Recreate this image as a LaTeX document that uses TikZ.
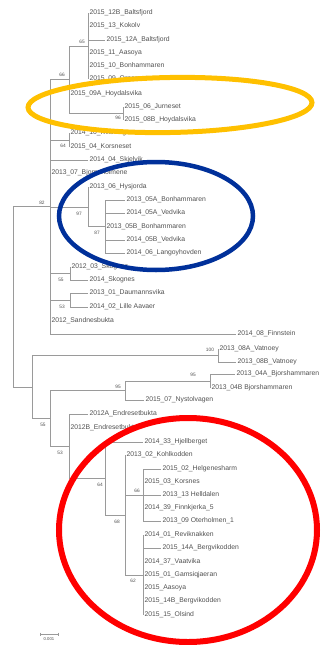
\documentclass[tikz,border=0pt]{standalone}
\usepackage{fontspec}
\setmainfont{Liberation Sans}
\definecolor{treegray}{HTML}{9A9A9A}
\definecolor{labgray}{HTML}{505050}
\definecolor{orng}{HTML}{FFC000}
\definecolor{dblue}{HTML}{00309A}
\definecolor{rred}{HTML}{FF0000}
\begin{document}
\begin{tikzpicture}[x=1pt,y=-1pt,
  treeline/.style={draw=treegray,line width=0.75pt},
  leaflab/.style={anchor=west,inner sep=0pt,outer sep=1.5pt,text height=5pt,text depth=1.4pt,font=\fontsize{6.8}{7}\selectfont,text=labgray},
  bslab/.style={inner sep=0pt,font=\fontsize{4.8}{5}\selectfont,text=labgray},
  ring/.style={line width=#1pt},
  ring/.default=5]
\useasboundingbox (0,0) rectangle (325,645);
% internal nodes
\coordinate (R) at (13,296.7);
\coordinate (U) at (50,206.5);
\coordinate (A) at (69,79.5);
\coordinate (n65) at (88,46);
\coordinate (n96) at (123,113.5);
\coordinate (n64a) at (69,140);
\coordinate (n97) at (88,207);
\coordinate (n87) at (105,226.5);
\coordinate (n55a) at (70,273.5);
\coordinate (n53a) at (70,300);
\coordinate (L) at (32,386.9);
\coordinate (n100) at (218,355.5);
\coordinate (n53b) at (50,418.2);
\coordinate (n95a) at (125,390.5);
\coordinate (n95b) at (210,381);
\coordinate (n53c) at (69,446);
\coordinate (n64b) at (105,478.5);
\coordinate (n68) at (125,515);
\coordinate (n66) at (143,495);
\coordinate (n62) at (143,575);
% leaves
\node[leaflab] (l1) at (88,13) {2015\_12B\_Baltsfjord};
\node[leaflab] (l2) at (88,26) {2015\_13\_Kokolv};
\node[leaflab] (l3) at (105,40) {2015\_12A\_Baltsfjord};
\node[leaflab] (l4) at (88,53) {2015\_11\_Aasoya};
\node[leaflab] (l5) at (88,66) {2015\_10\_Bonhammaren};
\node[leaflab] (l6) at (88,79) {2015\_09\_Ornesset};
\node[leaflab] (l7) at (69,94) {2015\_09A\_Hoydalsvika};
\node[leaflab] (l8) at (123,107) {2015\_06\_Jurneset};
\node[leaflab] (l9) at (123,120) {2015\_08B\_Hoydalsvika};
\node[leaflab] (l10) at (69,133) {2014\_10\_Kvisvingen};
\node[leaflab] (l11) at (69,147) {2015\_04\_Korsneset};
\node[leaflab] (l12) at (88,160) {2014\_04\_Skjelvik};
\node[leaflab] (l13) at (50,173) {2013\_07\_Bjorneholmene};
\node[leaflab] (l14) at (88,187) {2013\_06\_Hysjorda};
\node[leaflab] (l15) at (125,200) {2013\_05A\_Bonhammaren};
\node[leaflab] (l16) at (125,213) {2014\_05A\_Vedvika};
\node[leaflab] (l17) at (105,227) {2013\_05B\_Bonhammaren};
\node[leaflab] (l18) at (125,240) {2014\_05B\_Vedvika};
\node[leaflab] (l19) at (125,253) {2014\_06\_Langoyhovden};
\node[leaflab] (l20) at (70,267) {2012\_03\_Skognes};
\node[leaflab] (l21) at (88,280) {2014\_Skognes};
\node[leaflab] (l22) at (88,293) {2013\_01\_Daumannsvika};
\node[leaflab] (l23) at (88,307) {2014\_02\_Lille Aavaer};
\node[leaflab] (l24) at (50,321) {2012\_Sandnesbukta};
\node[leaflab] (l25) at (236,334) {2014\_08\_Finnstein};
\node[leaflab] (l26) at (218,349) {2013\_08A\_Vatnoey};
\node[leaflab] (l27) at (236,362) {2013\_08B\_Vatnoey};
\node[leaflab] (l28) at (235,374) {2013\_04A\_Bjorshammaren};
\node[leaflab] (l29) at (210,388) {2013\_04B Bjorshammaren};
\node[leaflab] (l30) at (144,400) {2015\_07\_Nystolvagen};
\node[leaflab] (l31) at (88,414) {2012A\_Endresetbukta};
\node[leaflab] (l32) at (69,428) {2012B\_Endresetbukta};
\node[leaflab] (l33) at (143,442) {2014\_33\_Hjellberget};
\node[leaflab] (l34) at (125,455) {2013\_02\_Kohlkodden};
\node[leaflab] (l35) at (161,469) {2015\_02\_Helgenesharm};
\node[leaflab] (l36) at (143,482) {2015\_03\_Korsnes};
\node[leaflab] (l37) at (161,495) {2013\_13 Helldalen};
\node[leaflab] (l38) at (143,508) {2014\_39\_Finnkjerka\_5};
\node[leaflab] (l39) at (161,521) {2013\_09 Oterholmen\_1};
\node[leaflab] (l40) at (143,535) {2014\_01\_Reviknakken};
\node[leaflab] (l41) at (161,548) {2015\_14A\_Bergvikodden};
\node[leaflab] (l42) at (143,562) {2014\_37\_Vaatvika};
\node[leaflab] (l43) at (143,575) {2015\_01\_Gamsiqjaeran};
\node[leaflab] (l44) at (143,588) {2015\_Aasoya};
\node[leaflab] (l45) at (143,601) {2015\_14B\_Bergvikodden};
\node[leaflab] (l46) at (143,615) {2015\_15\_Olsind};
% internal edges
\foreach \p/\c in {R/U,R/L,U/A,U/n64a,U/n97,U/n55a,U/n53a,A/n65,A/n96,n97/n87,
  L/n100,L/n53b,n53b/n95a,n53b/n53c,n95a/n95b,n53c/n64b,n64b/n68,n68/n66,n68/n62}
  \draw[treeline] (\p) |- (\c);
% leaf edges
\foreach \p/\c in {n65/l1,n65/l2,n65/l3,n65/l4,n65/l5,n65/l6,A/l7,n96/l8,n96/l9,
  n64a/l10,n64a/l11,U/l12,U/l13,n97/l14,n87/l15,n87/l16,n87/l17,n87/l18,n87/l19,
  n55a/l20,n55a/l21,n53a/l22,n53a/l23,U/l24,U/l25,n100/l26,n100/l27,n95b/l28,n95b/l29,
  n95a/l30,n53c/l31,n53c/l32,n64b/l33,n68/l34,n66/l35,n66/l36,n66/l37,n66/l38,n66/l39,
  n62/l40,n62/l41,n62/l42,n62/l43,n62/l44,n62/l45,n62/l46}
  \draw[treeline] (\p) |- (\c.west);
% bootstrap values
\node[bslab] (b1) at (82,42) {65};
\node[bslab] (b2) at (62,75) {66};
\node[bslab] (b3) at (118,118) {96};
\node[bslab] (b4) at (63,146) {64};
\node[bslab] (b5) at (42,203) {82};
\node[bslab] (b6) at (79,214) {97};
\node[bslab] (b7) at (97,233) {87};
\node[bslab] (b8) at (61,280) {55};
\node[bslab] (b9) at (62,307) {53};
\node[bslab] (b10) at (210,350) {100};
\node[bslab] (b11) at (193,375) {95};
\node[bslab] (b12) at (118,387) {95};
\node[bslab] (b13) at (43,425) {55};
\node[bslab] (b14) at (60,453) {53};
\node[bslab] (b15) at (100,485) {64};
\node[bslab] (b16) at (117,522) {68};
\node[bslab] (b17) at (137,491) {66};
\node[bslab] (b18) at (133,581) {62};
% scale bar
\coordinate (sb1) at (40,634);
\coordinate (sb2) at (58,634);
\draw[treeline] (sb1) -- (sb2);
\draw[treeline] ([yshift=1.5pt]sb1) -- ([yshift=-1.5pt]sb1);
\draw[treeline] ([yshift=1.5pt]sb2) -- ([yshift=-1.5pt]sb2);
\node[bslab,font=\fontsize{4.2}{5}\selectfont] (sbl) at (49,639.5) {0.001};
% highlight rings
\draw[ring=5,draw=orng,rotate around={1:(170,105)}] (170,105) ellipse [x radius=142pt, y radius=27.5pt];
\draw[ring=4.5,draw=dblue] (156,216) ellipse [x radius=97pt, y radius=54pt];
\draw[ring=6,draw=rred] (188,530) ellipse [x radius=129pt, y radius=112pt];
\end{tikzpicture}
\end{document}
